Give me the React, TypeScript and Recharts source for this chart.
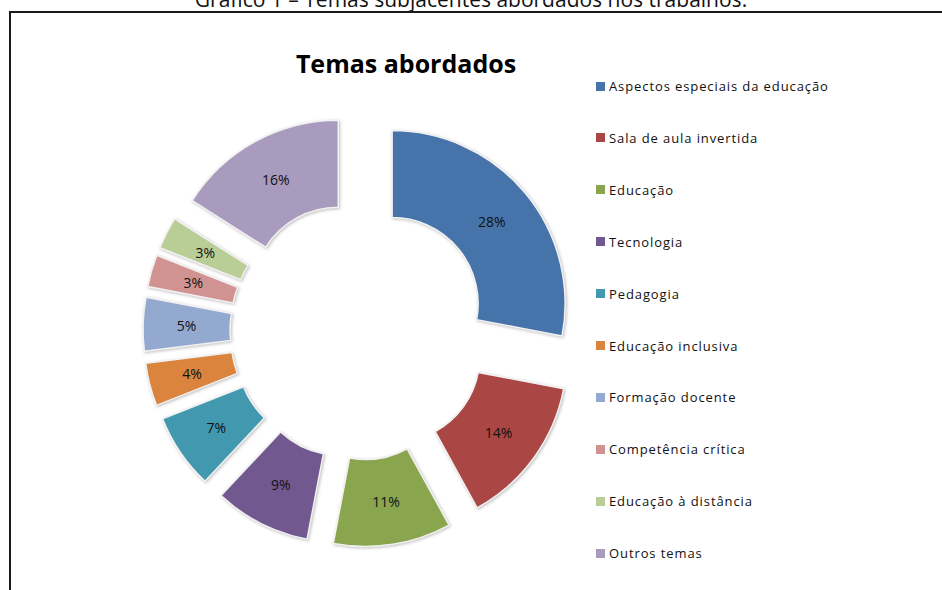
import React from "react";
import { PieChart, Pie, Cell } from "recharts";

const temas = [
  "Aspectos especiais da educação",
  "Sala de aula invertida",
  "Educação",
  "Tecnologia",
  "Pedagogia",
  "Educação inclusiva",
  "Formação docente",
  "Competência crítica",
  "Educação à distância",
  "Outros temas",
];

const percentuais = [28, 14, 11, 9, 7, 4, 5, 3, 3, 16];

const cores = [
  "#4674aa",
  "#aa4643",
  "#89a54e",
  "#71588f",
  "#4198af",
  "#db843d",
  "#93a9cf",
  "#d19392",
  "#b9cd96",
  "#a99bbd",
];

const data = temas.map((nome, i) => ({ nome, valor: percentuais[i] }));

const CX = 359;
const CY = 331;
const INNER = 86;
const OUTER = 173;
const EXPLODE = 43;
const RAD = Math.PI / 180;

const total = percentuais.reduce((a, b) => a + b, 0);

// angle (clockwise from 12 o'clock) of the middle of each slice
const midAngles = percentuais.map((v, i) => {
  const before = percentuais.slice(0, i).reduce((a, b) => a + b, 0);
  return ((before + v / 2) / total) * 360;
});

const fontFamily = "'Open Sans', 'Liberation Sans', sans-serif";

export default function App() {
  return (
    <div
      style={{
        position: "fixed",
        top: 0,
        left: 0,
        width: 942,
        height: 590,
        overflow: "hidden",
        background: "#fff",
        fontFamily,
      }}
    >
      <div
        style={{
          position: "absolute",
          top: -11,
          left: 0,
          width: 942,
          textAlign: "center",
          fontSize: 21,
          lineHeight: "20px",
          color: "#111",
        }}
      >
        Gráfico 1 – Temas subjacentes abordados nos trabalhos.
      </div>
      <div
        style={{
          position: "absolute",
          top: 11,
          left: 9,
          width: 960,
          height: 600,
          borderTop: "2px solid #1a1a1a",
          borderLeft: "2px solid #1a1a1a",
        }}
      />
      <div
        style={{
          position: "absolute",
          top: 46,
          left: 196,
          width: 420,
          textAlign: "center",
          fontSize: 25,
          fontWeight: 700,
          color: "#000",
        }}
      >
        Temas abordados
      </div>

      <div style={{ position: "absolute", top: 0, left: 0 }}>
        <PieChart width={942} height={590} margin={{ top: 0, right: 0, bottom: 0, left: 0 }}>
          {data.map((d, k) => {
            const a = midAngles[k] * RAD;
            return (
              <Pie
                key={d.nome}
                data={data}
                dataKey="valor"
                nameKey="nome"
                cx={CX + EXPLODE * Math.sin(a)}
                cy={CY - EXPLODE * Math.cos(a)}
                innerRadius={INNER}
                outerRadius={OUTER}
                startAngle={90}
                endAngle={-270}
                isAnimationActive={false}
                labelLine={false}
                label={(p: any) => {
                  if (p.index !== k) return null;
                  const r = (p.innerRadius + p.outerRadius) / 2;
                  const x = p.cx + r * Math.cos(-p.midAngle * RAD);
                  const y = p.cy + r * Math.sin(-p.midAngle * RAD);
                  return (
                    <text
                      x={x}
                      y={y}
                      textAnchor="middle"
                      dominantBaseline="central"
                      fontSize={14}
                      fontFamily={fontFamily}
                      fill="#111"
                    >
                      {`${p.value}%`}
                    </text>
                  );
                }}
              >
                {data.map((_, i) => (
                  <Cell
                    key={i}
                    fill={i === k ? cores[i] : "none"}
                    stroke={i === k ? "#f2f2f2" : "none"}
                    strokeWidth={1.5}
                    style={
                      i === k
                        ? { filter: "drop-shadow(1px 1px 1.5px rgba(0,0,0,0.25))" }
                        : undefined
                    }
                  />
                ))}
              </Pie>
            );
          })}
        </PieChart>
      </div>

      {temas.map((nome, i) => (
        <div
          key={nome}
          style={{
            position: "absolute",
            left: 596,
            top: 86 + i * 51.9 - 9,
            height: 18,
            display: "flex",
            alignItems: "center",
            fontSize: 13,
            letterSpacing: 0.9,
            color: "#111",
          }}
        >
          <span
            style={{
              display: "inline-block",
              width: 9,
              height: 9,
              background: cores[i],
              marginRight: 4,
            }}
          />
          {nome}
        </div>
      ))}
    </div>
  );
}
